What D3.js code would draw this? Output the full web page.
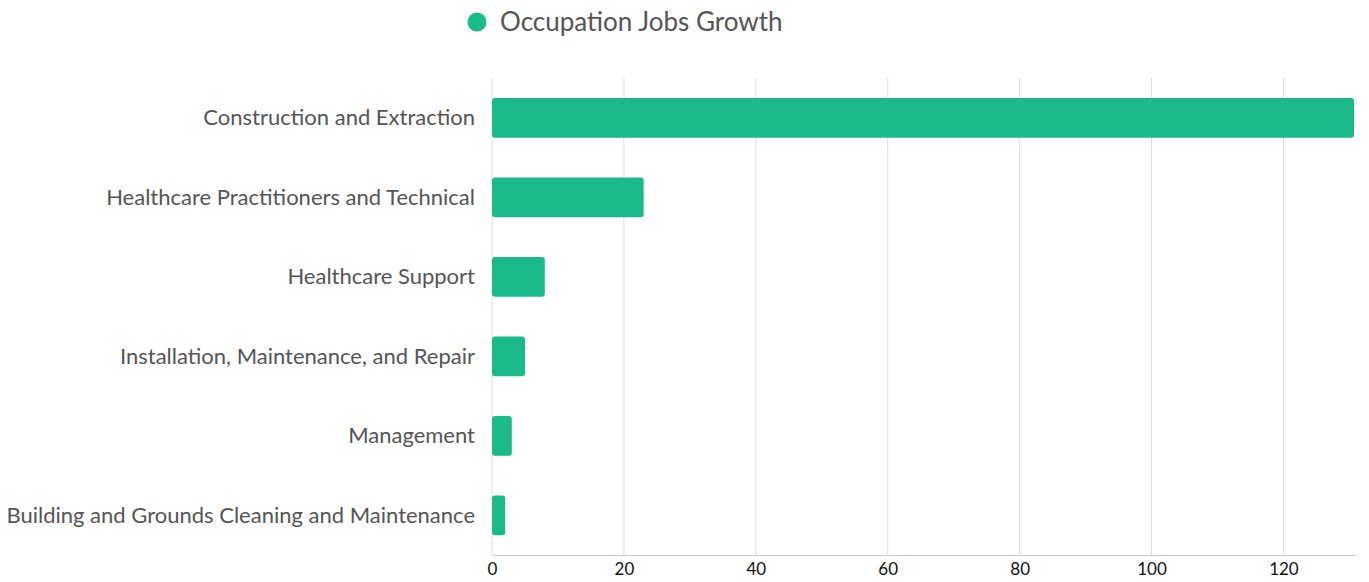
<!DOCTYPE html>
<html>
<head>
<meta charset="utf-8">
<script src="https://cdn.jsdelivr.net/npm/d3@7"></script>
<style>
  body { margin: 0; background: #fff; font-family: Lato, "Open Sans", sans-serif; }
</style>
</head>
<body>
<svg id="chart" width="1369" height="582"></svg>
<script>
// occupations, top to bottom
var categories = [
    "Construction and Extraction",
    "Healthcare Practitioners and Technical",
    "Healthcare Support",
    "Installation, Maintenance, and Repair",
    "Management",
    "Building and Grounds Cleaning and Maintenance"
];
var jobsGrowth = [130.7, 23, 8, 5, 3, 2];
var xTicks = [0, 20, 40, 60, 80, 100, 120];
var seriesName = "Occupation Jobs Growth";

var svg = d3.select("#chart");
var margin = {left: 492, right: 13, top: 78, bottom: 27};
var width = 1369 - margin.left - margin.right;
var height = 582 - margin.top - margin.bottom;
var green = "#1aba8a";

var x = d3.scaleLinear().domain([0, 131]).range([0, width]);
var y = d3.scaleBand().domain(categories).range([0, height]).paddingInner(0.5).paddingOuter(0.25);

let g = svg.append("g").attr("transform", "translate(" + margin.left + "," + margin.top + ")");

/* vertical grid lines */
g.selectAll("line.grid").data(xTicks).enter().append("line")
    .attr("class", "grid")
    .attr("x1", d => x(d)).attr("x2", d => x(d))
    .attr("y1", 0).attr("y2", height)
    .attr("stroke", "#dcdcdc").attr("stroke-width", 1);

/* bars */
g.selectAll("rect.bar").data(categories).enter().append("rect")
    .attr("class", "bar")
    .attr("x", 0)
    .attr("y", d => y(d))
    .attr("width", (d, i) => x(jobsGrowth[i]))
    .attr("height", y.bandwidth())
    .attr("rx", 3).attr("ry", 3)
    .attr("fill", green);

/* bottom axis */
let xAxis = g.append("g")
    .attr("transform", "translate(0," + height + ")")
    .call(d3.axisBottom(x).tickValues(xTicks).tickSize(0).tickPadding(8));
xAxis.select(".domain").attr("stroke", "#cccccc");
xAxis.selectAll("text").attr("font-family", "Lato").attr("font-size", 17).attr("fill", "#111");

/* category labels */
g.selectAll("text.cat").data(categories).enter().append("text")
    .attr("class", "cat")
    .attr("x", -17)
    .attr("y", d => y(d) + y.bandwidth() / 2)
    .attr("dy", "0.35em")
    .attr("text-anchor", "end")
    .attr("font-family", "Lato").attr("font-size", 22)
    .attr("fill", "#555")
    .text(d => d);

/* legend */
let legend = svg.append("g");
legend.append("circle").attr("cx", 477).attr("cy", 22).attr("r", 9.5).attr("fill", green);
legend.append("text")
    .attr("x", 500).attr("y", 22).attr("dy", "0.35em")
    .attr("font-family", "Lato").attr("font-size", 26)
    .attr("fill", "#555")
    .text(seriesName);
</script>
</body>
</html>
